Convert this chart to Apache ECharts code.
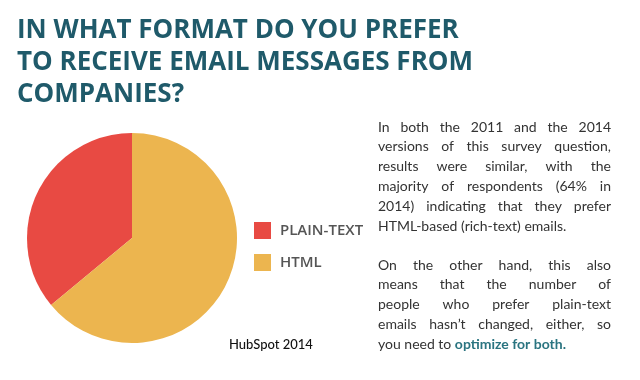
<!DOCTYPE html>
<html>
<head>
<meta charset="utf-8">
<script src="https://cdn.jsdelivr.net/npm/echarts@6/dist/echarts.min.js"></script>
<style>
html,body{margin:0;padding:0;background:#fff;}
#main{width:640px;height:380px;}
</style>
</head>
<body>
<div id="main"></div>
<script>
// ---- data ----
var categories = ['PLAIN-TEXT', 'HTML'];
var shares = [36, 64];
var sliceColors = ['#E84A43', '#ECB54F'];
var titleLines = ['IN WHAT FORMAT DO YOU PREFER', 'TO RECEIVE EMAIL MESSAGES FROM', 'COMPANIES?'];
var para1 = [
  'In both the 2011 and the 2014',
  'versions of this survey question,',
  'results were similar, with the',
  'majority of respondents (64% in',
  '2014) indicating that they prefer',
  'HTML-based (rich-text) emails.'
];
var para2 = [
  'On the other hand, this also',
  'means that the number of',
  'people who prefer plain-text',
  'emails hasn\u2019t changed, either, so'
];
var para2LastPlain = 'you need to ';
var para2LastBold = 'optimize for both.';
var sourceText = 'HubSpot 2014';

// ---- layout ----
var chart = echarts.init(document.getElementById('main'), null, {renderer: 'canvas'});
var ctx = document.createElement('canvas').getContext('2d');
var bodyFamily = 'Lato';
var bodySize = 14;
var bodyFont = bodySize + 'px ' + bodyFamily;
var bodyColor = '#333333';
var textLeft = 378, textRight = 611;

var graphics = [];
titleLines.forEach(function (t, i) {
  graphics.push({
    type: 'text', x: 17, y: 31 + i * 32,
    style: {text: t, font: 'bold 26px "Open Sans"', fill: '#1F5A6A', textVerticalAlign: 'middle'}
  });
});

function justifyLine(line, y) {
  ctx.font = bodyFont;
  var words = line.split(' ');
  var widths = words.map(function (w) { return ctx.measureText(w).width; });
  var total = widths.reduce(function (a, b) { return a + b; }, 0);
  var gap = words.length > 1 ? (textRight - textLeft - total) / (words.length - 1) : 0;
  var x = textLeft;
  words.forEach(function (w, k) {
    graphics.push({
      type: 'text', x: x, y: y,
      style: {text: w, font: bodyFont, fill: bodyColor, textVerticalAlign: 'middle'}
    });
    x += widths[k] + gap;
  });
}
function plainLine(line, y) {
  graphics.push({
    type: 'text', x: textLeft, y: y,
    style: {text: line, font: bodyFont, fill: bodyColor, textVerticalAlign: 'middle'}
  });
}
var lh = 19.8;
para1.forEach(function (l, i) {
  var y = 127 + i * lh;
  if (i < para1.length - 1) justifyLine(l, y); else plainLine(l, y);
});
para2.forEach(function (l, i) {
  justifyLine(l, 265 + i * lh);
});
graphics.push({
  type: 'text', x: textLeft, y: 265 + para2.length * lh,
  style: {
    text: '{a|' + para2LastPlain + '}{b|' + para2LastBold + '}',
    textVerticalAlign: 'middle',
    rich: {
      a: {font: bodyFont, fill: bodyColor, color: bodyColor},
      b: {font: 'bold ' + bodyFont, fill: '#2A7480', color: '#2A7480'}
    }
  }
});
graphics.push({
  type: 'text', x: 229, y: 345,
  style: {text: sourceText, font: '500 13px Lato', fill: '#111', textVerticalAlign: 'middle'}
});

var option = {
  backgroundColor: '#ffffff',
  animation: false,
  color: sliceColors,
  legend: {
    orient: 'vertical', left: 249, top: 217,
    itemWidth: 17, itemHeight: 17, itemGap: 15, icon: 'rect',
    data: categories,
    textStyle: {color: '#555555', fontSize: 15, fontWeight: 600, fontFamily: 'Open Sans', padding: [0, 0, 0, 4]}
  },
  series: [{
    type: 'pie',
    center: [132, 238],
    radius: 105,
    startAngle: 90,
    clockwise: false,
    label: {show: false},
    labelLine: {show: false},
    emphasis: {disabled: true},
    itemStyle: {borderWidth: 0},
    data: categories.map(function (c, i) { return {name: c, value: shares[i]}; })
  }],
  graphic: graphics
};
chart.setOption(option);
</script>
</body>
</html>
